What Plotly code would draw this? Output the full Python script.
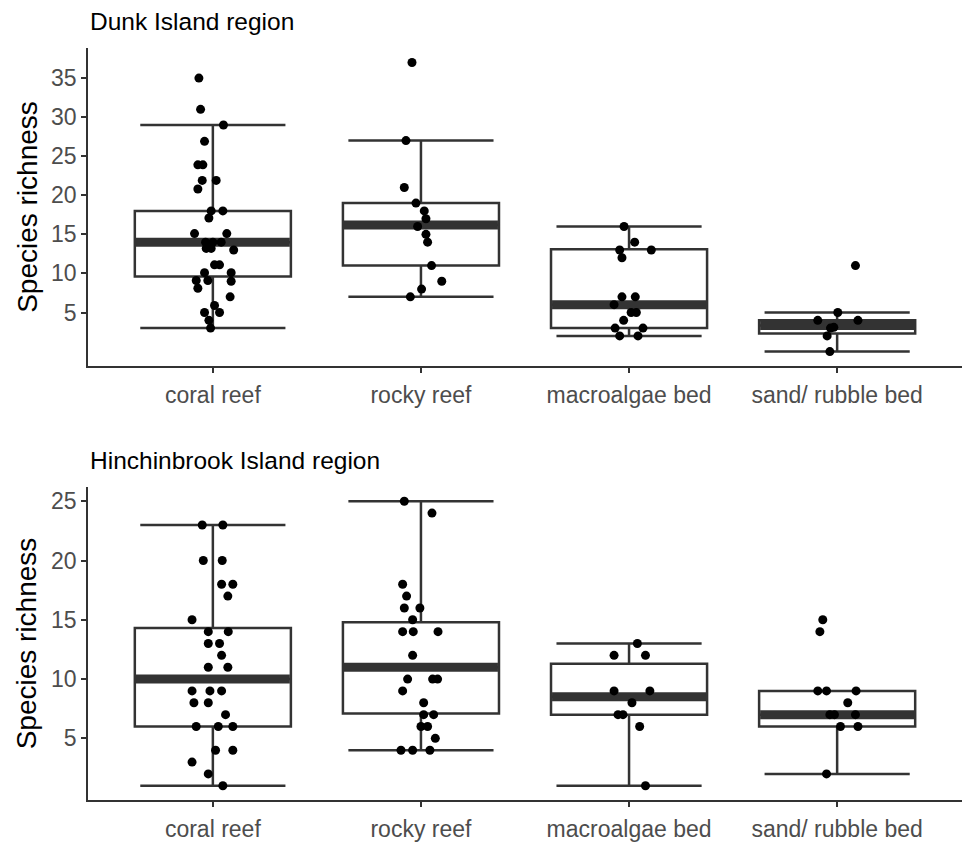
import plotly.graph_objects as go

categories = ["coral reef", "rocky reef", "macroalgae bed", "sand/ rubble bed"]

# ---- Dunk Island region (top panel) ----
dunk_q1 = [9.6, 11.0, 3.0, 2.3]
dunk_median = [14.0, 16.2, 6.0, 3.35]
dunk_q3 = [18.0, 19.0, 13.1, 4.0]
dunk_low = [3, 7, 2, 0]
dunk_high = [29, 27, 16, 5]

dunk_points = [
    [35, 31, 29, 26.9, 23.9, 23.9, 21.9, 21.9, 20.8, 18, 18, 17.1, 15.1, 15.1, 14, 14, 14,
     13.2, 13.2, 13, 11.1, 11.1, 10.1, 10.1, 9.1, 9.1, 9, 8.1, 7, 5.9, 5, 5, 4, 3],
    [37, 27, 21, 19, 18, 17, 16, 15, 14, 11, 9, 8, 7],
    [16, 14, 13, 13, 12, 7, 7, 6, 5, 5, 4, 3, 3, 2, 2],
    [11, 5, 4, 4, 3.1, 3, 2, 0],
]
dunk_jitter = [
    [-0.067, -0.059, 0.051, -0.04, -0.072, -0.048, -0.051, 0.016, -0.072, -0.008, 0.048, -0.019,
     -0.088, 0.067, -0.035, 0.0, 0.04, -0.032, -0.008, 0.1, 0.008, 0.032, -0.04, 0.088, -0.08,
     -0.024, 0.088, -0.072, 0.083, 0.008, -0.04, 0.032, -0.019, -0.011],
    [-0.043, -0.072, -0.08, -0.024, 0.016, 0.024, -0.016, 0.024, 0.032, 0.051, 0.1, 0.003, -0.051],
    [-0.024, 0.027, -0.045, 0.107, -0.034, -0.034, 0.03, -0.072, 0.035, 0.01, -0.026, -0.067,
     0.067, -0.045, 0.043],
    [0.088, 0.003, -0.093, 0.1, -0.016, -0.032, -0.048, -0.035],
]

# ---- Hinchinbrook Island region (bottom panel) ----
hinch_q1 = [6.0, 7.1, 7.0, 6.0]
hinch_median = [10.0, 11.0, 8.5, 7.0]
hinch_q3 = [14.3, 14.8, 11.3, 9.0]
hinch_low = [1, 4, 1, 2]
hinch_high = [23, 25, 13, 9]

hinch_points = [
    [23, 23, 20, 20, 18, 18, 17, 15, 14, 14, 13, 13, 12, 11, 11, 9, 9, 9, 8, 8, 7, 6, 6, 6,
     4, 4, 3, 2, 1],
    [25, 24, 18, 17, 16, 16, 15, 14, 14, 14, 12, 10, 10, 10, 9, 8, 7, 7, 6, 6, 5, 4, 4, 4],
    [13, 12, 12, 9, 9, 8, 7, 7, 6, 1],
    [15, 14, 9, 9, 9, 8, 7, 7, 7, 6, 6, 2],
]
hinch_jitter = [
    [-0.051, 0.048, -0.046, 0.045, 0.042, 0.096, 0.072, -0.1, -0.022, 0.074, -0.022, 0.032,
     0.042, -0.022, 0.072, -0.1, -0.014, 0.042, -0.091, -0.022, 0.061, -0.08, 0.026, 0.096,
     0.013, 0.096, -0.1, -0.022, 0.048],
    [-0.08, 0.053, -0.088, -0.069, -0.08, -0.005, -0.04, -0.088, -0.037, 0.082, -0.04, -0.064,
     0.056, 0.08, -0.088, 0.013, 0.013, 0.061, 0.0, 0.032, 0.069, -0.096, -0.04, 0.043],
    [0.04, -0.072, 0.079, -0.072, 0.1, 0.014, -0.053, -0.029, 0.051, 0.079],
    [-0.069, -0.083, -0.093, -0.051, 0.091, 0.051, -0.035, -0.013, 0.088, 0.016, 0.1, -0.051],
]

panel_titles = ["Dunk Island region", "Hinchinbrook Island region"]
y_title = "Species richness"
dunk_ticks = [5, 10, 15, 20, 25, 30, 35]
hinch_ticks = [5, 10, 15, 20, 25]

FONT = "Liberation Sans, Arial, sans-serif"
LINE = "#333333"
BOX_W = 0.75

fig = go.Figure()
xs = list(range(len(categories)))


def add_panel(q1, med, q3, low, high, pts, jit, xa, ya):
    fig.add_trace(go.Box(
        x=xs, q1=q1, median=med, q3=q3, lowerfence=low, upperfence=high,
        width=BOX_W, whiskerwidth=0.93, fillcolor="white",
        line=dict(color=LINE, width=2.5), boxpoints=False,
        xaxis=xa, yaxis=ya, showlegend=False, hoverinfo="skip"))
    for i in xs:
        fig.add_trace(go.Scatter(
            x=[i - BOX_W / 2 + 0.005, i + BOX_W / 2 - 0.005], y=[med[i], med[i]],
            mode="lines", line=dict(color=LINE, width=9),
            xaxis=xa, yaxis=ya, showlegend=False, hoverinfo="skip"))
    for i in xs:
        fig.add_trace(go.Scatter(
            x=[i + d for d in jit[i]], y=pts[i], mode="markers",
            marker=dict(color="black", size=9, line=dict(width=0)),
            xaxis=xa, yaxis=ya, showlegend=False, hoverinfo="skip"))


add_panel(dunk_q1, dunk_median, dunk_q3, dunk_low, dunk_high, dunk_points, dunk_jitter, "x", "y")
add_panel(hinch_q1, hinch_median, hinch_q3, hinch_low, hinch_high, hinch_points, hinch_jitter, "x2", "y2")

axis_common = dict(showline=True, linecolor=LINE, linewidth=1.8, ticks="outside",
                   ticklen=5, tickwidth=1.5, tickcolor=LINE, showgrid=False, zeroline=False,
                   tickfont=dict(family=FONT, size=23, color="#4D4D4D"))

xaxis_common = dict(axis_common, tickmode="array", tickvals=xs, ticktext=categories,
                    range=[-0.6, 3.6], ticklabelstandoff=2)

fig.update_layout(
    width=967, height=853,
    margin=dict(l=88, r=5, t=48, b=53),
    paper_bgcolor="white", plot_bgcolor="white",
    boxmode="overlay",
    xaxis=dict(xaxis_common, anchor="y", domain=[0, 1]),
    yaxis=dict(axis_common, domain=[0.5771, 1], range=[-1.85, 38.85],
               tickmode="array", tickvals=dunk_ticks),
    xaxis2=dict(xaxis_common, anchor="y2", domain=[0, 1]),
    yaxis2=dict(axis_common, domain=[0, 0.4162], range=[-0.2, 26.2],
                tickmode="array", tickvals=hinch_ticks),
    annotations=[
        dict(text=panel_titles[0], xref="paper", yref="paper", x=0.0, y=1.0346,
             xanchor="left", yanchor="middle", showarrow=False,
             font=dict(family=FONT, size=24.5, color="black")),
        dict(text=panel_titles[1], xref="paper", yref="paper", x=0.0, y=0.4521,
             xanchor="left", yanchor="middle", showarrow=False,
             font=dict(family=FONT, size=24.5, color="black")),
        dict(text=y_title, xref="paper", yref="paper", x=-0.07, y=(0.5771 + 1) / 2,
             xanchor="center", yanchor="middle", textangle=-90, showarrow=False,
             font=dict(family=FONT, size=28, color="black")),
        dict(text=y_title, xref="paper", yref="paper", x=-0.07, y=0.4162 / 2,
             xanchor="center", yanchor="middle", textangle=-90, showarrow=False,
             font=dict(family=FONT, size=28, color="black")),
    ],
)

fig.write_html("out.html")
